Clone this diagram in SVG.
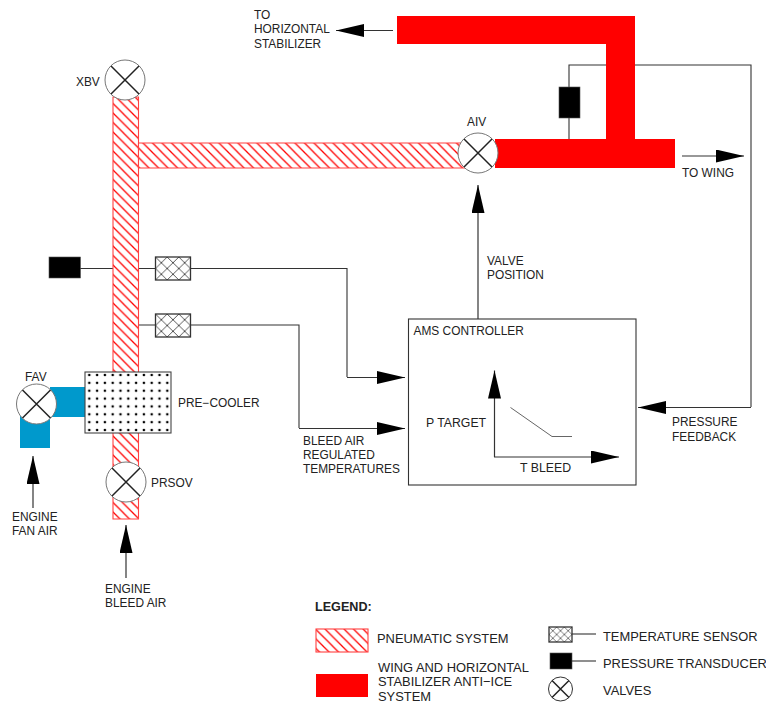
<svg xmlns="http://www.w3.org/2000/svg" width="766" height="704" viewBox="0 0 766 704">
<style>
text{font-family:"Liberation Sans",Arial,sans-serif;font-size:11.9px;fill:#222}
.l{font-size:12.9px}
.b{font-weight:bold;font-size:12.6px}
.w{fill:none;stroke:#333;stroke-width:1.1}
.a{fill:none;stroke:#333;stroke-width:1.2;marker-end:url(#ah)}
.h{fill:url(#hatch);stroke:#ff4040;stroke-width:1.1}
.r{fill:#f00}
.k{fill:#000;stroke:#555;stroke-width:.6}
.s{stroke:#333;stroke-width:1.3}
.vc{fill:#fff;stroke:#777;stroke-width:1}
.vx{stroke:#222;stroke-width:1.5}
.t{font-size:12.3px}
</style>
<defs>
<pattern id="hatch" width="9.5" height="9.5" patternUnits="userSpaceOnUse"><rect width="9.5" height="9.5" fill="#fff"/><path d="M-1-1 10.500 10.500M-1 8.500 1 10.500M8.500-1 10.500 1" stroke="#f00" stroke-width="1.3"/></pattern>
<pattern id="cross" width=".33333" height=".5" patternUnits="objectBoundingBox"><rect width="11.67" height="11.5" fill="#fff"/><path d="M0 0 11.67 11.500M11.67 0 0 11.500" stroke="#444" stroke-width=".9"/></pattern>
<pattern id="cross2" width=".33333" height=".5" patternUnits="objectBoundingBox"><rect width="7.67" height="7.5" fill="#fff"/><path d="M0 0 7.67 7.500M7.67 0 0 7.500" stroke="#444" stroke-width=".7"/></pattern>
<pattern id="dots" width="7.8" height="7.86" patternUnits="userSpaceOnUse" patternTransform="translate(85.4 371.070)"><rect width="7.8" height="7.86" fill="#fff"/><circle cx="3.9" cy="3.93" r="1.3" fill="#000"/></pattern>
<marker id="ah" markerUnits="userSpaceOnUse" markerWidth="30" markerHeight="14" refX="28" refY="6.5" orient="auto"><path d="M0 0 28 6.5 0 13Z" fill="#000"/></marker>
<g id="vsym"><circle r="20" class="vc"/><path class="vx" d="M-14-14 14 14M14-14-14 14"/></g>
</defs>

<g id="connectors">
<path class="w" d="M80 268.500H113M138 268.500H156M190 268.500H347V377"/>
<path class="a" d="M347 377.500H405"/>
<path class="w" d="M138 325H156M190 325H299V428"/>
<path class="a" d="M299 428.500H405"/>
<path class="a" d="M478 319V185"/>
<path class="w" d="M569 139V65H751V407"/>
<path class="a" d="M751 407.500H638"/>
<path class="a" d="M393 30.500H336"/>
<path class="a" d="M682 156H744"/>
<path class="a" d="M33 508V456"/>
<path class="a" d="M126 578V525"/>
</g>

<g id="pneumatic-pipe"><path class="h" d="M113 97H138.500V519H113Z"/><path class="h" d="M138.500 143H470V168H138.500Z"/></g>
<g id="fan-duct"><path fill="#0099cc" d="M50 387H85V417H50V448H20V410H50Z"/></g>
<g id="anti-ice-pipe"><path class="r" d="M397 16H635V139H675V168H495V139H606V44H397Z"/></g>

<g id="XBV"><use href="#vsym" x="125" y="80"/><text x="76" y="86">XBV</text></g>
<g id="AIV"><use href="#vsym" x="478" y="153"/><text x="467" y="126">AIV</text></g>
<g id="FAV"><use href="#vsym" x="36.500" y="404"/><text x="25" y="381">FAV</text></g>
<g id="PRSOV"><use href="#vsym" x="126" y="482"/><text x="151" y="487">PRSOV</text></g>
<g id="pre-cooler"><rect x="85" y="372" width="86" height="61" fill="url(#dots)" stroke="#444" stroke-width="1.1"/><text x="178" y="407">PRE−COOLER</text></g>
<g id="pressure-transducer-1"><rect class="k" x="49" y="257" width="31.500" height="21"/></g>
<g id="pressure-transducer-2"><rect class="k" x="559" y="87" width="21" height="31"/></g>
<g id="temp-sensor-1"><rect class="s" fill="url(#cross)" x="155.500" y="257" width="35" height="23"/></g>
<g id="temp-sensor-2"><rect class="s" fill="url(#cross)" x="155.500" y="314" width="35" height="23"/></g>

<g id="ams-controller"><rect x="408.500" y="319" width="227.500" height="166" fill="#fff" stroke="#333" stroke-width="1.1"/>
<text x="413.500" y="335">AMS CONTROLLER</text><text class="t" x="426" y="427">P TARGET</text><text class="t" x="520" y="472">T BLEED</text>
<path class="a" d="M494.500 457V370.500"/><path class="a" d="M494 457H619"/><path fill="none" stroke="#666" stroke-width="1" d="M510.500 407.500 552 436.500H572"/></g>

<g id="labels">
<text x="254" y="19">TO</text><text x="254" y="33">HORIZONTAL</text><text x="254" y="47.500">STABILIZER</text>
<text x="682" y="177">TO WING</text>
<text x="487" y="265">VALVE</text><text x="487" y="279">POSITION</text>
<text x="672" y="426">PRESSURE</text><text x="672" y="441">FEEDBACK</text>
<text x="303" y="445">BLEED AIR</text><text x="303" y="459">REGULATED</text><text x="303" y="473">TEMPERATURES</text>
<text x="12" y="521">ENGINE</text><text x="12" y="535">FAN AIR</text>
<text x="105" y="593">ENGINE</text><text x="105" y="607">BLEED AIR</text>
</g>

<g id="legend">
<text class="b" x="315" y="611">LEGEND:</text>
<rect class="h" x="316" y="629" width="52" height="23"/><text class="l" x="377" y="643">PNEUMATIC SYSTEM</text>
<rect class="r" x="316" y="674" width="52" height="23"/><text class="l" x="378" y="671.500">WING AND HORIZONTAL</text><text class="l" x="378" y="686.300">STABILIZER ANTI−ICE</text><text class="l" x="378" y="701">SYSTEM</text>
<rect class="s" fill="url(#cross2)" x="549" y="627" width="23" height="15"/><path class="w" d="M572 634H596"/><text class="l" x="603" y="641">TEMPERATURE SENSOR</text>
<rect class="k" x="550" y="653" width="22" height="16"/><path class="w" d="M572 661H596"/><text class="l" x="603" y="667.500">PRESSURE TRANSDUCER</text>
<circle cx="560.500" cy="689" r="12" fill="#fff" stroke="#333"/><path class="vx" d="M552 680.500 569 697.500M569 680.500 552 697.500"/><text class="l" x="603" y="694.500">VALVES</text>
</g>
</svg>
